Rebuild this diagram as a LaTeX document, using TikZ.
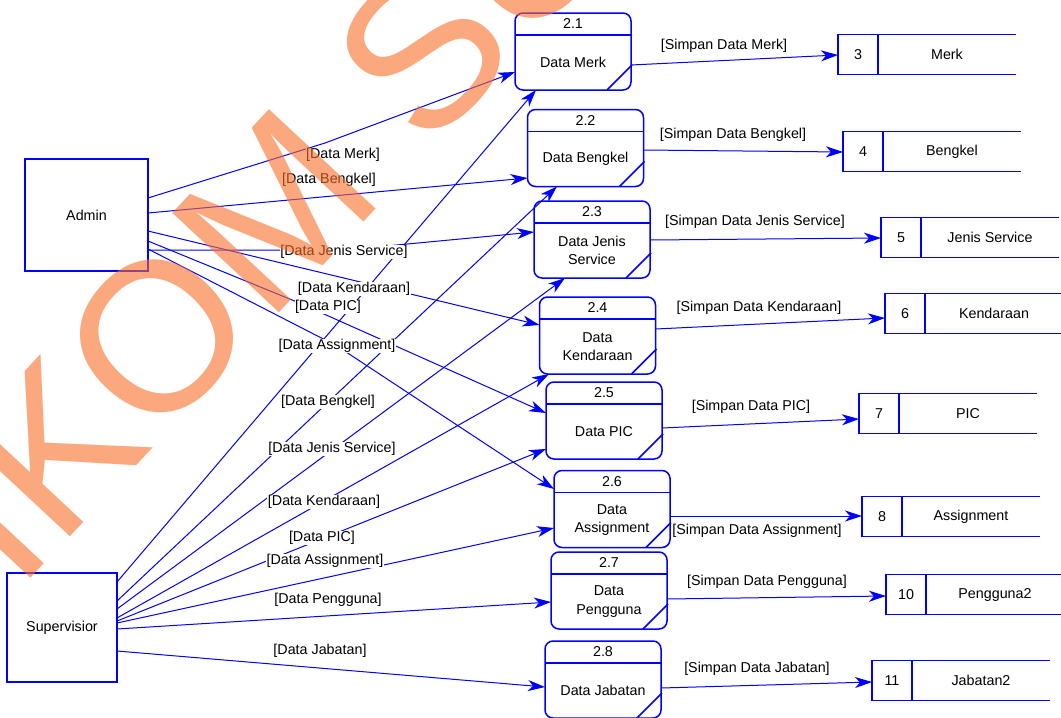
\documentclass[tikz,border=0pt]{standalone}
\usepackage{fontspec}
\setmainfont{Liberation Sans}
\usetikzlibrary{arrows.meta,calc}
\definecolor{dfdblue}{RGB}{0,0,255}
\definecolor{wmorange}{RGB}{250,110,40}

% process: name, centre x, centre y, number, title
\newcommand\dfdproc[5]{%
  \node[proc] (#1) at (#2,#3) {};
  \draw[procline] ($(#1.north west)+(0,22)$) -- ($(#1.north east)+(0,22)$);
  \draw[procline] ($(#1.south east)+(-24,0)$) -- ($(#1.south east)+(1,-25)$);
  \node[txt] at ($(#1.north)+(0,11)$) {#4};
  \node[txt] at ($(#1.center)+(0,11)$) {#5};
}
% data store: name, left x, centre y, id, title
\newcommand\dfdstore[5]{%
  \node[storeid, anchor=west] (#1) at (#2,#3) {#4};
  \draw[storeline] (#1.north east) -- ++(138,0);
  \draw[storeline] (#1.south east) -- ++(138,0);
  \node[txt] at ($(#1.east)+(69,0)$) {#5};
}

\begin{document}
\begin{tikzpicture}[x=1pt,y=-1pt,
  txt/.style={font=\fontsize{14.3}{18.5}\selectfont, inner sep=0pt, align=center},
  entity/.style={draw=dfdblue, line width=1.2pt, outer sep=0pt, inner sep=0pt, txt},
  proc/.style={draw=dfdblue, line width=1.5pt, rounded corners=8pt,
    minimum width=116pt, minimum height=77pt, outer sep=0pt, inner sep=0pt},
  procline/.style={draw=dfdblue, line width=1.5pt},
  storeid/.style={draw=dfdblue, line width=1.2pt, minimum width=40pt,
    minimum height=40pt, outer sep=0pt, inner sep=0pt, txt},
  storeline/.style={draw=dfdblue, line width=1.2pt},
  flow/.style={draw=dfdblue, line width=1pt,
    -{Stealth[length=17pt,width=11pt,inset=5pt]}},
  flowlabel/.style={txt, fill=white, inner sep=0.5pt},
]
\useasboundingbox (0,0) rectangle (1061,718);
\clip (0,0) rectangle (1061,718);
\fill[white] (0,0) rectangle (1061,718);

% external entities
\node[entity, minimum width=123pt, minimum height=112pt] (admin) at (86.5,215) {Admin};
\node[entity, minimum width=110pt, minimum height=109pt] (sup) at (62,627.5) {Supervisior};

% processes
\dfdproc{p21}{573}{51.5}{2.1}{Data Merk}
\dfdproc{p22}{585.5}{148}{2.2}{Data Bengkel}
\dfdproc{p23}{592}{239.5}{2.3}{Data Jenis\\Service}
\dfdproc{p24}{597.5}{335.5}{2.4}{Data\\Kendaraan}
\dfdproc{p25}{604}{420.5}{2.5}{Data PIC}
\dfdproc{p26}{612}{509}{2.6}{Data\\Assignment}
\dfdproc{p27}{609}{590.5}{2.7}{Data\\Pengguna}
\dfdproc{p28}{603}{679.5}{2.8}{Data Jabatan}

% data stores
\dfdstore{s3}{838}{54.5}{3}{Merk}
\dfdstore{s4}{843}{151.5}{4}{Bengkel}
\dfdstore{s5}{881}{237.5}{5}{Jenis Service}
\dfdstore{s6}{885}{313.5}{6}{Kendaraan}
\dfdstore{s7}{859}{413.5}{7}{PIC}
\dfdstore{s8}{862}{516.5}{8}{Assignment}
\dfdstore{s10}{886}{594.5}{10}{Pengguna2}
\dfdstore{s11}{872}{680.5}{11}{Jabatan2}

% flows from Admin
\draw[flow] (admin.east |- 0,198) -- (325,143) -- (p21.west |- 0,72);
\draw[flow] (admin.east |- 0,213) -- (p22.west |- 0,178);
\draw[flow] (admin.east |- 0,250) -- (344,250) -- (p23.west |- 0,232);
\draw[flow] (admin.east |- 0,231) -- (p24.west |- 0,325);
\draw[flow] (admin.east |- 0,241) -- (297,302) -- (p25.west |- 0,413);
\draw[flow] (admin.east |- 0,249) -- (337,346) -- (p26.west |- 0,489);

% flows from Supervisior
\draw[flow] (sup.east |- 0,582) -- (p21.south -| 536,0);
\draw[flow] (sup.east |- 0,601) -- (p22.south -| 557,0);
\draw[flow] (sup.east |- 0,609) -- (p23.south -| 565,0);
\draw[flow] (sup.east |- 0,618) -- (p24.south -| 549,0);
\draw[flow] (sup.east |- 0,621) -- (p25.west |- 0,449);
\draw[flow] (sup.east |- 0,623) -- (p26.west |- 0,528);
\draw[flow] (sup.east |- 0,629) -- (p27.west |- 0,602);
\draw[flow] (sup.east |- 0,651) -- (p28.west |- 0,687);

% flows into the data stores
\draw[flow] (p21.east |- 0,65) -- (s3.west |- 0,55);
\draw[flow] (p22.east |- 0,150) -- (s4.west |- 0,152);
\draw[flow] (p23.east |- 0,240) -- (s5.west |- 0,238);
\draw[flow] (p24.east |- 0,329) -- (s6.west |- 0,318);
\draw[flow] (p25.east |- 0,428) -- (s7.west |- 0,419);
\draw[flow] (p26.east |- 0,516) -- (s8.west |- 0,516);
\draw[flow] (p27.east |- 0,599) -- (s10.west |- 0,596);
\draw[flow] (p28.east |- 0,688) -- (s11.west |- 0,682);

% flow labels
\node[flowlabel] (la1) at (343,155) {[Data Merk]};
\node[flowlabel] (la2) at (329,180) {[Data Bengkel]};
\node[flowlabel] (la3) at (344,252) {[Data Jenis Service]};
\node[flowlabel] (la4) at (354,289) {[Data Kendaraan]};
\node[flowlabel] (la5) at (328,307) {[Data PIC]};
\node[flowlabel] (la6) at (337,346) {[Data Assignment]};
\node[flowlabel] (ls2) at (328,402) {[Data Bengkel]};
\node[flowlabel] (ls3) at (332,449) {[Data Jenis Service]};
\node[flowlabel] (ls4) at (324,502) {[Data Kendaraan]};
\node[flowlabel] (ls5) at (322,538) {[Data PIC]};
\node[flowlabel] (ls6) at (325,561) {[Data Assignment]};
\node[flowlabel] (ls7) at (328,600) {[Data Pengguna]};
\node[flowlabel] (ls8) at (320,651) {[Data Jabatan]};
\node[flowlabel] (lt3) at (724,46) {[Simpan Data Merk]};
\node[flowlabel] (lt4) at (733,135) {[Simpan Data Bengkel]};
\node[flowlabel] (lt5) at (755,222) {[Simpan Data Jenis Service]};
\node[flowlabel] (lt6) at (759,308) {[Simpan Data Kendaraan]};
\node[flowlabel] (lt7) at (751,407) {[Simpan Data PIC]};
\node[flowlabel] (lt8) at (757,531) {[Simpan Data Assignment]};
\node[flowlabel] (lt10) at (767,582) {[Simpan Data Pengguna]};
\node[flowlabel] (lt11) at (757,669) {[Simpan Data Jabatan]};

% watermark over the page
\node[rotate=47, anchor=base west, inner sep=0pt, text=wmorange, text opacity=0.6,
  font=\fontsize{212}{212}\selectfont] (wm) at (-167,791) {STIKOM SURABAYA};
\end{tikzpicture}
\end{document}
